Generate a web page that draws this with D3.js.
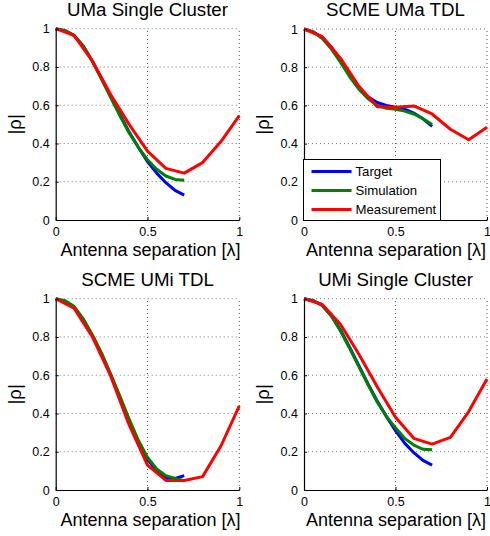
<!DOCTYPE html>
<html><head><meta charset="utf-8">
<script src="https://cdn.jsdelivr.net/npm/d3@7"></script>
<style>body{margin:0;background:#fff}svg{display:block}text{font-family:"Liberation Sans",Arial,sans-serif;fill:#000}</style>
</head><body>
<svg id="c" width="490" height="536"></svg>
<script>
// ---- data ----
const xFine = [0,0.05,0.1,0.15,0.2,0.25,0.3,0.35,0.4,0.45,0.5,0.55,0.6,0.65,0.7];
const xMeas = [0,0.1,0.2,0.3,0.4,0.5,0.6,0.7,0.8,0.9,1.0];
const titles = ["UMa Single Cluster","SCME UMa TDL","SCME UMi TDL","UMi Single Cluster"];
const seriesNames = ["Target","Simulation","Measurement"];
const yTicks = [0,0.2,0.4,0.6,0.8,1];
const xTicks = [0,0.5,1];

const umaSC_target = [1,0.99,0.965,0.91,0.83,0.74,0.645,0.55,0.46,0.38,0.305,0.245,0.195,0.155,0.13];
const umaSC_sim    = [1,0.99,0.965,0.91,0.83,0.735,0.64,0.545,0.455,0.38,0.315,0.265,0.23,0.212,0.208];
const umaSC_meas   = [1,0.965,0.83,0.655,0.5,0.36,0.27,0.245,0.3,0.41,0.545];

const scmeUMa_target = [1,0.985,0.955,0.905,0.835,0.76,0.69,0.645,0.615,0.6,0.59,0.58,0.56,0.53,0.49];
const scmeUMa_sim    = [1,0.985,0.95,0.895,0.825,0.75,0.685,0.635,0.6,0.585,0.58,0.57,0.555,0.53,0.5];
const scmeUMa_meas   = [1,0.96,0.846,0.7,0.593,0.59,0.597,0.555,0.475,0.42,0.485];

const scmeUMi_target = [1,0.985,0.955,0.89,0.805,0.71,0.6,0.48,0.36,0.25,0.16,0.1,0.065,0.06,0.075];
const scmeUMi_sim    = [1,0.99,0.96,0.895,0.81,0.715,0.605,0.49,0.37,0.26,0.17,0.11,0.075,0.06,0.048];
const scmeUMi_meas   = [1,0.95,0.8,0.595,0.34,0.13,0.05,0.05,0.07,0.23,0.44];

const umiSC_target = [1,0.99,0.965,0.91,0.835,0.745,0.65,0.555,0.465,0.385,0.31,0.245,0.195,0.155,0.13];
const umiSC_sim    = [1,0.99,0.965,0.91,0.83,0.74,0.645,0.55,0.46,0.385,0.325,0.27,0.235,0.213,0.21];
const umiSC_meas   = [1,0.97,0.865,0.71,0.54,0.38,0.27,0.24,0.275,0.41,0.58];

const panelData = [
  [umaSC_target, umaSC_sim, umaSC_meas],
  [scmeUMa_target, scmeUMa_sim, scmeUMa_meas],
  [scmeUMi_target, scmeUMi_sim, scmeUMi_meas],
  [umiSC_target, umiSC_sim, umiSC_meas]
];
const colors = ["#0000ff","#008000","#ff0000"];

// ---- layout ----
const boxes = [
  {l:55.7, r:239.3, t:28.7, b:220, lx:3},
  {l:304, r:487, t:29, b:220, lx:0.5},
  {l:55.7, r:239.3, t:298.7, b:490, lx:3},
  {l:304, r:487, t:298.7, b:490, lx:0.5}
];

const svg = d3.select("#c");

panelData.forEach((d,i)=>{
  const bx = boxes[i];
  const x = d3.scaleLinear().domain([0,1]).range([bx.l,bx.r]);
  const y = d3.scaleLinear().domain([0,1]).range([bx.b,bx.t]);
  const g = svg.append("g");

  // grid
  g.selectAll(".gy").data(yTicks.filter(v=>v>0)).join("line")
    .attr("x1",x(0)).attr("x2",x(1)).attr("y1",v=>y(v)).attr("y2",v=>y(v))
    .attr("stroke","#777").attr("stroke-width",1).attr("stroke-dasharray","1,3");
  g.selectAll(".gx").data(xTicks.filter(v=>v>0)).join("line")
    .attr("x1",v=>x(v)).attr("x2",v=>x(v)).attr("y1",y(0)).attr("y2",y(1))
    .attr("stroke","#555").attr("stroke-width",1).attr("stroke-dasharray","1,3");

  // lines
  const lineF = d3.line().x(p=>x(p[0])).y(p=>y(p[1]));
  d.forEach((s,k)=>{
    const xsArr = k<2 ? xFine : xMeas;
    g.append("path").datum(s.map((v,j)=>[xsArr[j],v]))
      .attr("d",lineF).attr("fill","none").attr("stroke",colors[k])
      .attr("stroke-width",3).attr("stroke-linejoin","round");
  });

  // axes
  const ax = d3.axisBottom(x).tickValues(xTicks).tickFormat(d3.format("")).tickSizeInner(-3).tickSizeOuter(0).tickPadding(5);
  const gx = g.append("g").attr("transform",`translate(0,${bx.b})`).call(ax);
  const ay = d3.axisLeft(y).tickValues(yTicks).tickFormat(d3.format("")).tickSizeInner(-3).tickSizeOuter(0).tickPadding(6);
  const gy = g.append("g").attr("transform",`translate(${bx.l},0)`).call(ay);
  [gx,gy].forEach(a=>{
    a.selectAll("text").attr("font-size",12.5).attr("font-family","Liberation Sans, Arial, sans-serif").attr("fill","#000");
    a.select(".domain").attr("stroke","#000").attr("stroke-width",1.2);
    a.selectAll(".tick line").attr("stroke","#000");
  });
  gx.selectAll("text").attr("dy","0.9em");

  // title
  g.append("text").attr("x",(bx.l+bx.r)/2).attr("y",bx.t-13).attr("text-anchor","middle")
    .attr("font-size",18.7).text(titles[i]);
  // xlabel
  g.append("text").attr("x",(bx.l+bx.r)/2+bx.lx).attr("y",bx.b+36).attr("text-anchor","middle")
    .attr("font-size",18).text("Antenna separation [λ]");
  // ylabel
  g.append("text").attr("transform",`translate(${bx.l-35},${(bx.t+bx.b)/2}) rotate(-90)`)
    .attr("text-anchor","middle").attr("font-size",18.7).text("|ρ|");

  // legend on panel 2
  if(i===1){
    const lg = svg.append("g");
    lg.append("rect").attr("x",303.5).attr("y",159.5).attr("width",137).attr("height",61)
      .attr("fill","#fff").attr("stroke","#000").attr("stroke-width",1);
    seriesNames.forEach((n,k)=>{
      const yy = 171.5 + k*19;
      lg.append("line").attr("x1",311.5).attr("x2",351.5).attr("y1",yy).attr("y2",yy)
        .attr("stroke",colors[k]).attr("stroke-width",3);
      lg.append("text").attr("x",355.5).attr("y",yy+4.5).attr("font-size",13.2).text(n);
    });
  }
});
</script>
</body></html>
